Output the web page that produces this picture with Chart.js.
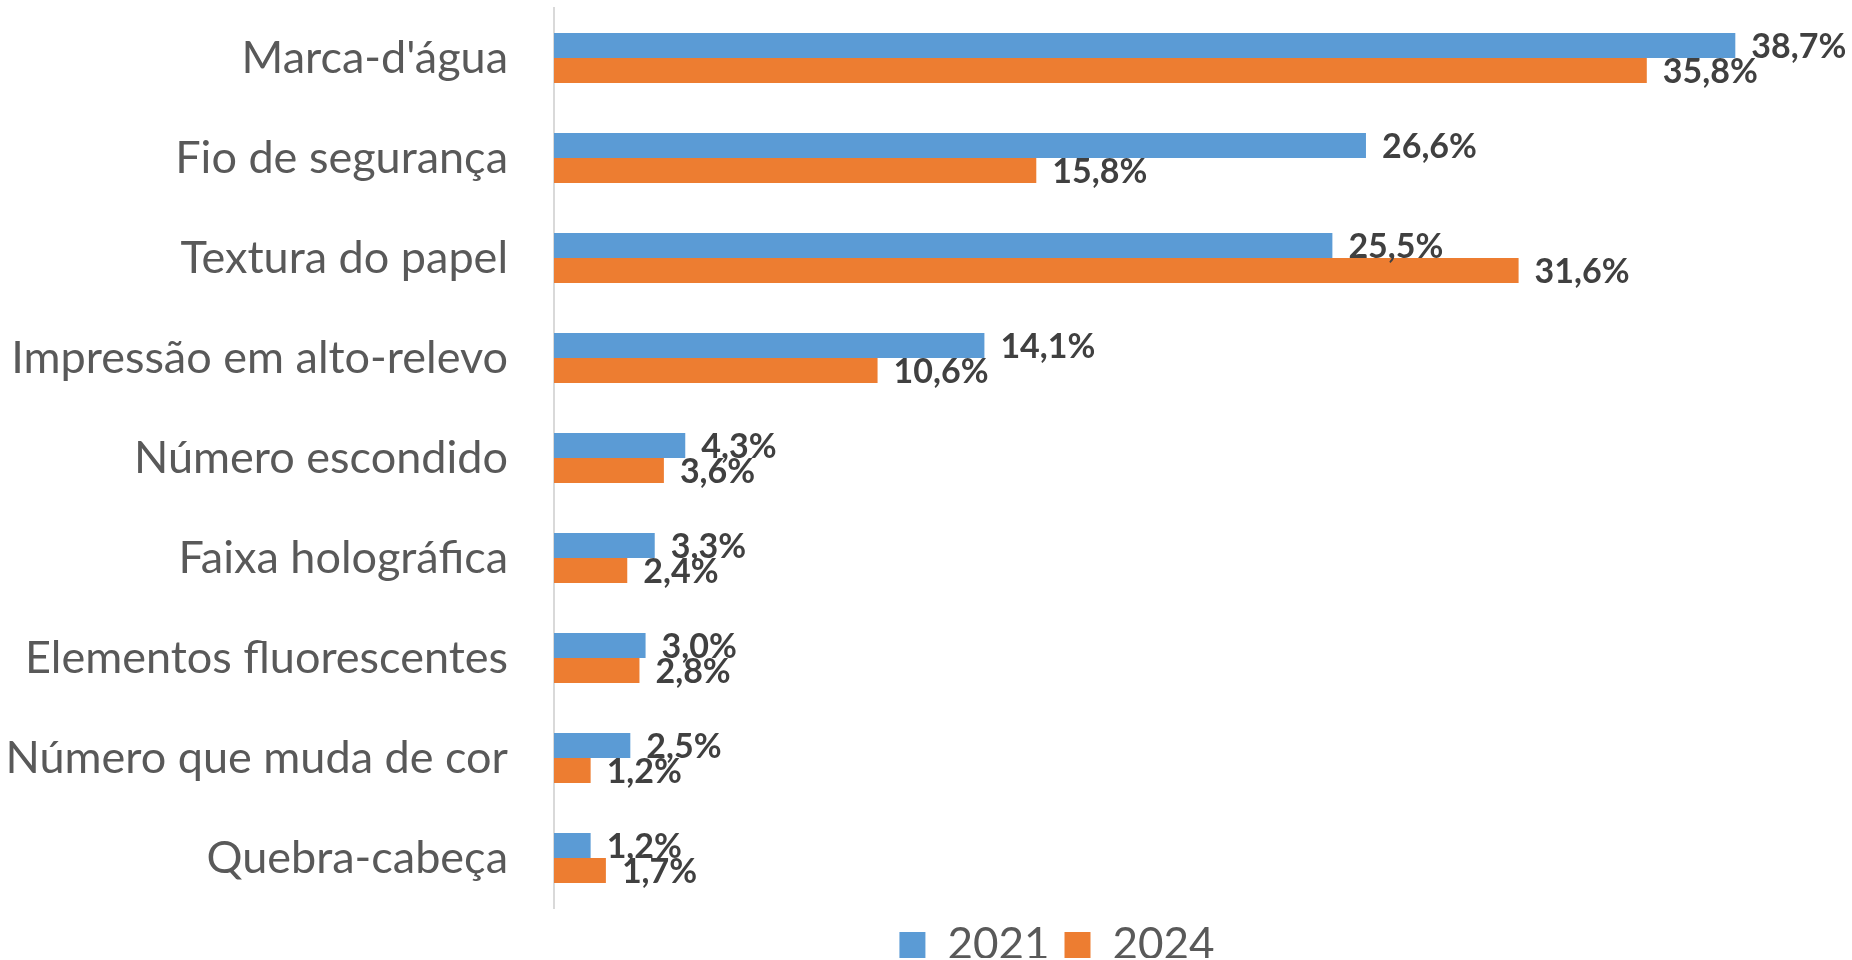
<!DOCTYPE html>
<html lang="pt">
<head>
<meta charset="utf-8">
<title>Elementos de segurança</title>
<script src="https://cdn.jsdelivr.net/npm/chart.js@4.4.1/dist/chart.umd.min.js"></script>
<style>
  html, body { margin: 0; padding: 0; background: #fff; }
  #wrap { width: 1852px; height: 960px; position: relative; }
</style>
</head>
<body>
<div id="wrap"><canvas id="chart"></canvas></div>
<script>
const categories = [
  "Marca-d'água",
  'Fio de segurança',
  'Textura do papel',
  'Impressão em alto-relevo',
  'Número escondido',
  'Faixa holográfica',
  'Elementos fluorescentes',
  'Número que muda de cor',
  'Quebra-cabeça'
];
const seriesNames = ['2021', '2024'];
const values2021 = [38.7, 26.6, 25.5, 14.1, 4.3, 3.3, 3.0, 2.5, 1.2];
const values2024 = [35.8, 15.8, 31.6, 10.6, 3.6, 2.4, 2.8, 1.2, 1.7];

const fmtPct = v => v.toFixed(1).replace('.', ',') + '%';

// value labels at the end of each bar
const barLabels = {
  id: 'barLabels',
  afterDatasetsDraw(chart) {
    const ctx = chart.ctx;
    ctx.save();
    ctx.font = 'bold 34px Lato';
    ctx.fillStyle = '#404040';
    ctx.textAlign = 'left';
    ctx.textBaseline = 'middle';
    chart.data.datasets.forEach((ds, i) => {
      const meta = chart.getDatasetMeta(i);
      meta.data.forEach((bar, j) => {
        ctx.fillText(fmtPct(ds.data[j]), bar.x + 16, bar.y + 2);
      });
    });
    ctx.restore();
  }
};

// legend sits a bit right of the canvas centre, under the bars
const legendOffset = {
  id: 'legendOffset',
  afterLayout(chart) {
    if (chart.legend) {
      chart.legend.left = chart.chartArea.left - 215;
    }
  }
};

const ctx = document.getElementById('chart').getContext('2d');
new Chart(ctx, {
  type: 'bar',
  data: {
    labels: categories,
    datasets: [
      {
        label: seriesNames[0],
        data: values2021,
        backgroundColor: '#5B9BD5',
        borderWidth: 0,
        categoryPercentage: 0.5,
        barPercentage: 1.0
      },
      {
        label: seriesNames[1],
        data: values2024,
        backgroundColor: '#ED7D31',
        borderWidth: 0,
        categoryPercentage: 0.5,
        barPercentage: 1.0
      }
    ]
  },
  options: {
    indexAxis: 'y',
    responsive: true,
    maintainAspectRatio: false,
    animation: false,
    layout: {
      padding: { top: 8, left: 0, right: 77, bottom: 2 }
    },
    scales: {
      x: {
        display: false,
        min: 0,
        max: 40
      },
      y: {
        grid: { display: false, drawTicks: false },
        border: { display: true, color: '#D9D9D9', width: 2 },
        ticks: {
          padding: 46,
          color: '#595959',
          font: { family: 'Lato', size: 45 }
        },
        afterFit(scale) {
          scale.width = 554;
          scale.paddingTop = 0;
          scale.paddingBottom = 0;
        }
      }
    },
    plugins: {
      tooltip: { enabled: false },
      legend: {
        position: 'bottom',
        maxHeight: 50,
        labels: {
          boxWidth: 26,
          boxHeight: 26,
          padding: 15,
          color: '#595959',
          font: { family: 'Lato', size: 44 }
        }
      }
    }
  },
  plugins: [barLabels, legendOffset]
});
</script>
</body>
</html>
